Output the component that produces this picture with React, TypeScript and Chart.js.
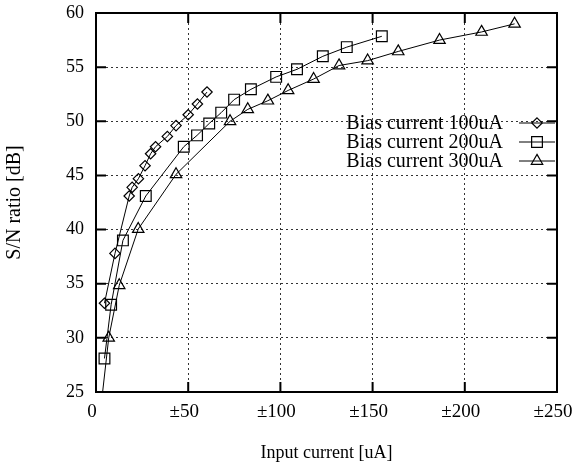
import React, { useEffect, useRef } from 'react';
import { Chart, registerables } from 'chart.js';

Chart.register(...registerables);

const FONT = "'Liberation Serif', 'Times New Roman', serif";

const xTickValues = [0, 50, 100, 150, 200, 250];
const yTickValues = [25, 30, 35, 40, 45, 50, 55, 60];

const seriesLabels = ['Bias current 100uA', 'Bias current 200uA', 'Bias current 300uA'];

const bias100X = [4.6, 10.3, 18, 19.6, 23, 26.6, 29.6, 32.3, 38.7, 43.4, 50, 55, 60.2];
const bias100Y = [33.2, 37.8, 43.1, 43.9, 44.7, 45.9, 47.0, 47.65, 48.6, 49.6, 50.6, 51.6, 52.7];

const bias200X = [4.6, 8.2, 14.6, 27, 47.6, 54.8, 61.4, 67.9, 74.9, 84, 97.7, 109, 123, 136, 155];
const bias200Y = [28.1, 33.05, 39.0, 43.1, 47.65, 48.7, 49.8, 50.8, 52.0, 52.95, 54.1, 54.8, 56.0, 56.85, 57.85];

const bias300X = [2.6, 6.9, 12.6, 22.9, 43.4, 72.7, 82.3, 93.2, 104.2, 118, 131.8, 147.3, 163.9, 186.3, 209.1, 227];
const bias300Y = [23.5, 30.0, 34.85, 40.05, 45.1, 50.0, 51.1, 51.9, 52.85, 53.9, 55.15, 55.6, 56.45, 57.5, 58.25, 59.0];

const seriesX = [bias100X, bias200X, bias300X];
const seriesY = [bias100Y, bias200Y, bias300Y];
const pointStyles = ['rectRot', 'rect', 'triangle'];
const pointRadii = [5.2, 7.6, 6.6];

function drawMarker(ctx: CanvasRenderingContext2D, style: string, x: number, y: number, r: number) {
  ctx.beginPath();
  if (style === 'rectRot') {
    ctx.moveTo(x, y - r);
    ctx.lineTo(x + r, y);
    ctx.lineTo(x, y + r);
    ctx.lineTo(x - r, y);
    ctx.closePath();
  } else if (style === 'rect') {
    const s = r * Math.SQRT1_2;
    ctx.rect(x - s, y - s, 2 * s, 2 * s);
  } else {
    let a = 0;
    ctx.moveTo(x + Math.sin(a) * r, y - Math.cos(a) * r);
    a += (2 * Math.PI) / 3;
    ctx.lineTo(x + Math.sin(a) * r, y - Math.cos(a) * r);
    a += (2 * Math.PI) / 3;
    ctx.lineTo(x + Math.sin(a) * r, y - Math.cos(a) * r);
    ctx.closePath();
  }
  ctx.stroke();
}

const framePlugin = {
  id: 'frame',
  beforeDraw(chart: any) {
    const ctx = chart.ctx;
    ctx.save();
    ctx.fillStyle = '#ffffff';
    ctx.fillRect(0, 0, chart.width, chart.height);
    ctx.restore();
  },
  afterDraw(chart: any) {
    const ctx: CanvasRenderingContext2D = chart.ctx;
    const { left, right, top, bottom } = chart.chartArea;
    const xs = chart.scales.x;
    const ys = chart.scales.y;
    ctx.save();
    ctx.strokeStyle = '#000';
    ctx.lineWidth = 2;
    ctx.strokeRect(left, top, right - left, bottom - top);
    const tl = 10;
    ctx.beginPath();
    xs.ticks.forEach((t: any) => {
      const px = xs.getPixelForValue(t.value);
      ctx.moveTo(px, bottom);
      ctx.lineTo(px, bottom - tl);
      ctx.moveTo(px, top);
      ctx.lineTo(px, top + tl);
    });
    ys.ticks.forEach((t: any) => {
      const py = ys.getPixelForValue(t.value);
      ctx.moveTo(left, py);
      ctx.lineTo(left + tl, py);
      ctx.moveTo(right, py);
      ctx.lineTo(right - tl, py);
    });
    ctx.stroke();

    // legend
    const rowsY = [123, 142, 161];
    const textRight = 503;
    ctx.font = `20px ${FONT}`;
    ctx.fillStyle = '#000';
    ctx.textAlign = 'right';
    ctx.textBaseline = 'middle';
    chart.data.datasets.forEach((ds: any, i: number) => {
      const yy = rowsY[i];
      ctx.fillText(ds.label, textRight, yy + 1);
      ctx.lineWidth = 1;
      ctx.beginPath();
      ctx.moveTo(519, yy);
      ctx.lineTo(555, yy);
      ctx.stroke();
      ctx.lineWidth = 1.2;
      drawMarker(ctx, pointStyles[i], 537, yy, pointRadii[i]);
    });
    ctx.restore();
  },
};

export default function App() {
  const ref = useRef<HTMLCanvasElement | null>(null);

  useEffect(() => {
    if (!ref.current) return;
    const datasets = seriesLabels.map((label, i) => ({
      label,
      data: seriesX[i].map((x, j) => ({ x, y: seriesY[i][j] })),
      showLine: true,
      borderColor: '#000',
      borderWidth: 1,
      pointStyle: pointStyles[i],
      pointRadius: pointRadii[i],
      pointHoverRadius: pointRadii[i],
      pointBorderColor: '#000',
      pointBackgroundColor: 'rgba(0,0,0,0)',
      pointBorderWidth: 1.2,
      tension: 0,
    }));

    const chart = new Chart(ref.current, {
      type: 'scatter',
      data: { datasets },
      options: {
        animation: false,
        responsive: false,
        devicePixelRatio: 1,
        layout: { padding: { top: 13, right: 17, bottom: 0, left: 0 } },
        plugins: { legend: { display: false }, tooltip: { enabled: false } },
        scales: {
          x: {
            type: 'linear',
            min: 0,
            max: 250,
            afterBuildTicks: (s: any) => {
              s.ticks = xTickValues.map((v) => ({ value: v }));
            },
            ticks: {
              callback: (v: any) => (Number(v) === 0 ? '0' : '±' + v),
              font: { family: FONT, size: 19 },
              color: '#000',
              padding: 9,
              labelOffset: -4,
              maxRotation: 0,
              autoSkip: false,
            },
            grid: { color: '#333', lineWidth: 1, drawTicks: false },
            border: { display: false, dash: [2, 3] },
            title: {
              display: true,
              text: 'Input current [uA]',
              font: { family: FONT, size: 18 },
              color: '#000',
              padding: { top: 0, bottom: 5 },
            },
            afterFit: (s: any) => {
              s.height = 77;
              s.paddingLeft = 0;
              s.paddingRight = 0;
            },
          },
          y: {
            type: 'linear',
            min: 25,
            max: 60,
            afterBuildTicks: (s: any) => {
              s.ticks = yTickValues.map((v) => ({ value: v }));
            },
            ticks: {
              font: { family: FONT, size: 18 },
              color: '#000',
              padding: 12,
            },
            grid: { color: '#333', lineWidth: 1, drawTicks: false },
            border: { display: false, dash: [2, 3] },
            title: {
              display: true,
              text: 'S/N ratio [dB]',
              font: { family: FONT, size: 20 },
              color: '#000',
              padding: { top: 3, bottom: 0 },
            },
            afterFit: (s: any) => {
              s.width = 96;
              s.paddingTop = 0;
              s.paddingBottom = 0;
            },
          },
        },
      },
      plugins: [framePlugin],
    } as any);
    return () => chart.destroy();
  }, []);

  return (
    <div style={{ position: 'absolute', left: 0, top: 0, width: 574, height: 469, background: '#fff' }}>
      <canvas ref={ref} width={574} height={469} style={{ display: 'block', width: 574, height: 469 }} />
    </div>
  );
}
